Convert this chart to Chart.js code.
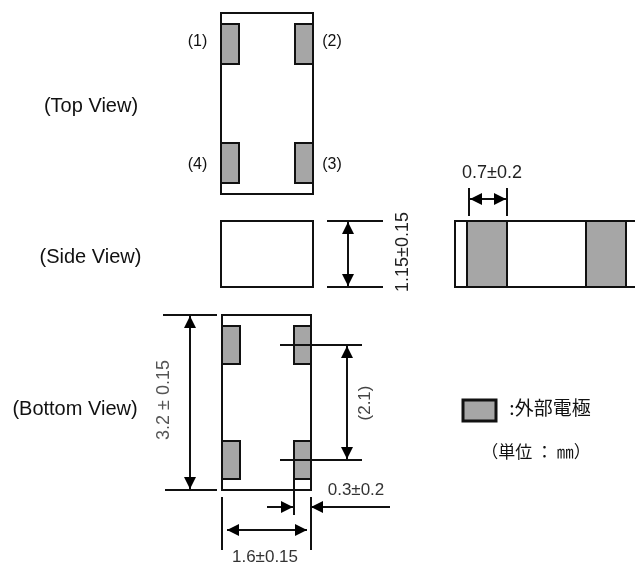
<!DOCTYPE html>
<html lang="en">
  <head>
    <meta charset="UTF-8" />
    <title>Package dimensions</title>
    <script src="https://cdn.jsdelivr.net/npm/chart.js"></script>
    <style>
      html, body { margin: 0; padding: 0; background: #fff; }
      #wrap { width: 635px; height: 562px; }
    </style>
  </head>
  <body>
    <div id="wrap"><canvas id="drawing"></canvas></div>

    <script>
      // Everything is in drawing units on the chart's x / y axes: [x0, y0, x1, y1]
      const bodyRects = [
        [221, 13, 313, 194],
        [221, 221, 313, 287],
        [222, 315, 311, 490],
        [455, 221, 645, 287]
      ];
      const padRects = [
        [221, 24, 239, 64], [295, 24, 313, 64],
        [221, 143, 239, 183], [295, 143, 313, 183],
        [222, 326, 240, 364], [294, 326, 311, 364],
        [222, 441, 240, 479], [294, 441, 311, 479],
        [467, 221, 507, 287], [586, 221, 626, 287],
        [463, 400, 496, 421]
      ];
      const extensionLines = [
        [327, 221, 383, 221], [327, 287, 383, 287],
        [163, 315, 217, 315], [165, 490, 217, 490],
        [280, 345, 362, 345], [280, 460, 362, 460],
        [294, 479, 294, 515], [311, 497, 311, 550],
        [222, 497, 222, 550],
        [469, 188, 469, 216], [507, 188, 507, 216]
      ];
      const dimensionArrows = [
        [348, 222, 348, 286],
        [190, 316, 190, 489],
        [347, 346, 347, 459],
        [227, 530, 307, 530],
        [470, 199, 506, 199]
      ];
      // leaders with a single head at the end
      const leaderArrows = [
        [267, 507, 293, 507],
        [390, 507, 311, 507]
      ];
      const labelTexts = ['(Top View)', '(Side View)', '(Bottom View)', '(1)', '(2)', '(3)', '(4)'];
      const labelX = [91, 90.5, 75, 197.5, 332, 332, 197.5];
      const labelY = [106, 257, 409, 42, 42, 165, 165];
      const labelSize = [20, 20, 20, 16, 16, 16, 16];

      const dimTexts = ['0.7±0.2', '0.3±0.2', '1.6±0.15', '1.15±0.15', '3.2 ± 0.15', '(2.1)'];
      const dimX = [492, 356, 265, 403, 164, 365];
      const dimY = [173, 490, 557, 252, 400, 403];
      const dimAngle = [0, 0, 0, -90, -90, -90];
      const dimSize = [18, 17, 17, 18, 18, 17];
      const dimColor = ['#222', '#333', '#333', '#222', '#555', '#444'];

      const cjkTexts = [':外部電極', '（単位 ： ㎜）'];
      const cjkX = [550, 536];
      const cjkY = [408, 452];
      const cjkSize = [19, 17];

      const HEAD = 12;
      const HALF = 6;

      function rectPath(r) {
        return [
          { x: r[0], y: r[1] }, { x: r[2], y: r[1] },
          { x: r[2], y: r[3] }, { x: r[0], y: r[3] },
          { x: r[0], y: r[1] }
        ];
      }
      function segPath(s) {
        return [{ x: s[0], y: s[1] }, { x: s[2], y: s[3] }];
      }
      // triangle with its tip at (x, y), pointing along (dx, dy)
      function headPath(x, y, dx, dy) {
        return [
          { x: x, y: y },
          { x: x - dx * HEAD - dy * HALF, y: y - dy * HEAD - dx * HALF },
          { x: x - dx * HEAD + dy * HALF, y: y - dy * HEAD + dx * HALF },
          { x: x, y: y }
        ];
      }
      function stroke(data, width, cap) {
        return { data, borderColor: '#111', borderWidth: width, backgroundColor: 'transparent',
          borderCapStyle: cap || 'butt', borderJoinStyle: 'miter',
          showLine: true, pointRadius: 0, fill: false, tension: 0 };
      }
      function solid(data, color, width) {
        return { data, borderColor: '#111', borderWidth: width, backgroundColor: color,
          borderCapStyle: 'square', borderJoinStyle: 'miter',
          showLine: true, pointRadius: 0, fill: 'shape', tension: 0 };
      }

      const datasets = [];
      // earlier datasets are painted on top, so lines go first
      function addArrow(a, both) {
        const len = Math.hypot(a[2] - a[0], a[3] - a[1]);
        const dx = (a[2] - a[0]) / len;
        const dy = (a[3] - a[1]) / len;
        datasets.push(solid(headPath(a[2], a[3], dx, dy), '#000', 0));
        if (both) datasets.push(solid(headPath(a[0], a[1], -dx, -dy), '#000', 0));
        datasets.push(stroke(segPath(a), 2));
      }
      dimensionArrows.forEach(a => addArrow(a, true));
      leaderArrows.forEach(a => addArrow(a, false));
      extensionLines.forEach(s => datasets.push(stroke(segPath(s), 2)));
      bodyRects.forEach(r => datasets.push(stroke(rectPath(r), 2, 'square')));
      padRects.forEach((r, i) => datasets.push(solid(rectPath(r), '#a6a6a6', i === padRects.length - 1 ? 3 : 2)));

      const textPlugin = {
        id: 'textPlugin',
        afterDatasetsDraw(chart) {
          const { ctx, scales } = chart;
          const put = (txt, x, y, font, color, angle) => {
            ctx.save();
            ctx.translate(scales.x.getPixelForValue(x), scales.y.getPixelForValue(y));
            ctx.rotate((angle || 0) * Math.PI / 180);
            ctx.font = font;
            ctx.fillStyle = color;
            ctx.textAlign = 'center';
            ctx.textBaseline = 'middle';
            ctx.fillText(txt, 0, 0);
            ctx.restore();
          };
          labelTexts.forEach((t, i) =>
            put(t, labelX[i], labelY[i], labelSize[i] + 'px "Liberation Sans"', '#111', 0));
          dimTexts.forEach((t, i) =>
            put(t, dimX[i], dimY[i], dimSize[i] + 'px "Liberation Sans"', dimColor[i], dimAngle[i]));
          cjkTexts.forEach((t, i) =>
            put(t, cjkX[i], cjkY[i], cjkSize[i] + 'px "Noto Sans CJK JP"', '#111', 0));
        }
      };

      new Chart(document.getElementById('drawing'), {
        type: 'scatter',
        data: { datasets },
        options: {
          responsive: true,
          maintainAspectRatio: false,
          animation: false,
          layout: { padding: 0 },
          plugins: { legend: { display: false }, tooltip: { enabled: false } },
          scales: {
            x: { type: 'linear', min: 0, max: 635, display: false },
            y: { type: 'linear', min: 0, max: 562, reverse: true, display: false }
          }
        },
        plugins: [textPlugin]
      });
    </script>
  </body>
</html>
